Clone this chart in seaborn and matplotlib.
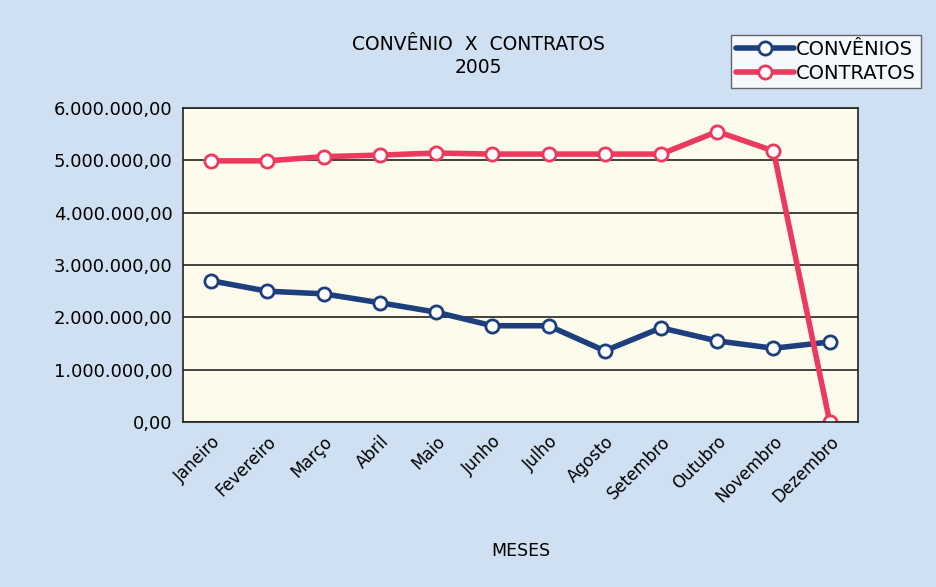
import pandas as pd
import numpy as np
import matplotlib
matplotlib.use('Agg')
import matplotlib.pyplot as plt
import seaborn as sns
from matplotlib.ticker import FuncFormatter

# dados
meses = ['Janeiro', 'Fevereiro', 'Março', 'Abril', 'Maio', 'Junho', 'Julho',
         'Agosto', 'Setembro', 'Outubro', 'Novembro', 'Dezembro']
convenios = [2700000, 2500000, 2450000, 2280000, 2100000, 1840000, 1840000,
             1360000, 1800000, 1550000, 1410000, 1530000]
contratos = [4990000, 4990000, 5070000, 5100000, 5140000, 5120000, 5120000,
             5120000, 5120000, 5550000, 5180000, 0]

sns.set_style("white")
plt.rcParams['font.family'] = ['DejaVu Sans']
plt.rcParams['text.color'] = 'black'
plt.rcParams['xtick.color'] = 'black'
plt.rcParams['ytick.color'] = 'black'
plt.rcParams['axes.labelcolor'] = 'black'

df = pd.DataFrame({'Mes': meses, 'CONVÊNIOS': convenios, 'CONTRATOS': contratos})
df['x'] = range(len(meses))

cor_conv = '#1d3f7e'
cor_cont = '#ec3a5e'
fundo = '#cfe0f2'

fig = plt.figure(figsize=(9.36, 5.87), dpi=100, facecolor=fundo)
ax = fig.add_axes([0.1955, 0.281, 0.721, 0.535])
ax.set_facecolor('#fdfbec')

sns.lineplot(data=df, x='x', y='CONVÊNIOS', ax=ax, color=cor_conv, linewidth=4,
             marker='o', markersize=9.5, markerfacecolor='white',
             markeredgecolor=cor_conv, markeredgewidth=2, label='CONVÊNIOS')
sns.lineplot(data=df, x='x', y='CONTRATOS', ax=ax, color=cor_cont, linewidth=4,
             marker='o', markersize=9.5, markerfacecolor='white',
             markeredgecolor=cor_cont, markeredgewidth=2, label='CONTRATOS')

ax.set_xlim(-0.5, len(meses) - 0.5)
ax.set_ylim(0, 6000000)
ax.set_yticks(np.arange(0, 6000001, 1000000))
ax.yaxis.set_major_formatter(FuncFormatter(
    lambda v, p: f'{v:,.2f}'.replace(',', 'X').replace('.', ',').replace('X', '.')))
ax.grid(axis='y', color='#222222', linewidth=1.2)
ax.set_axisbelow(True)
ax.set_xticks(df['x'])
ax.set_xticklabels(meses, rotation=45, ha='right', rotation_mode='anchor', fontsize=12)
ax.tick_params(axis='y', labelsize=13, length=4)
ax.tick_params(axis='x', length=4)
for s in ax.spines.values():
    s.set_color('#222222')
    s.set_linewidth(1.2)

ax.set_xlabel('MESES', fontsize=12.5, labelpad=26)
ax.set_ylabel('')
fig.text(0.511, 0.905, 'CONVÊNIO  X  CONTRATOS\n2005', ha='center', va='center',
         fontsize=13.5, linespacing=1.3)

leg = ax.legend(loc='upper right', bbox_to_anchor=(0.994, 0.957),
                bbox_transform=fig.transFigure, fontsize=14, frameon=True,
                fancybox=False, edgecolor='#444444', handlelength=3.0,
                handletextpad=0.1, borderpad=0.25, labelspacing=0.25)
leg.get_frame().set_facecolor('white')

fig.savefig('out.png', dpi=100, facecolor=fundo)
